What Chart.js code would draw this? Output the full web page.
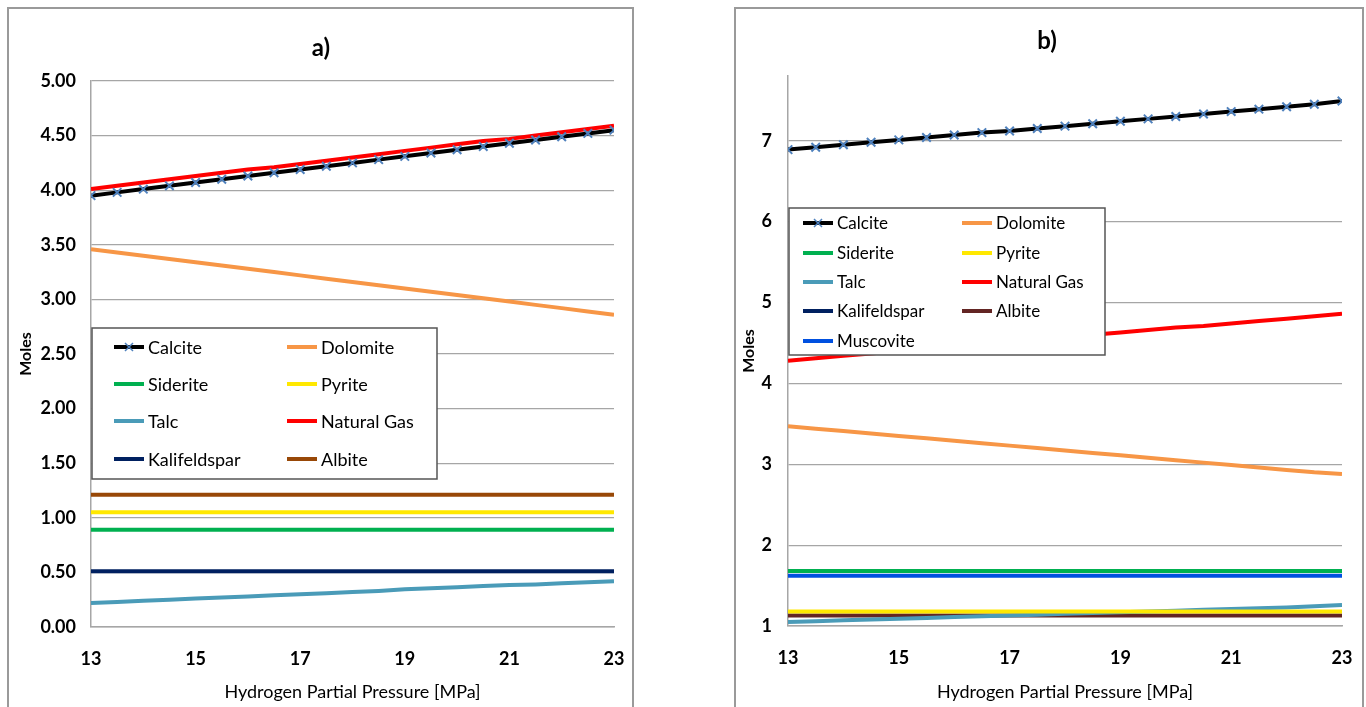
<!DOCTYPE html>
<html>
<head>
<meta charset="utf-8">
<script src="https://cdn.jsdelivr.net/npm/chart.js@4.4.1/dist/chart.umd.min.js"></script>
<style>
  body { margin: 0; background: #fff; width: 1366px; height: 707px; overflow: hidden; position: relative; }
  .box { position: absolute; top: 7px; height: 710px; border: 2px solid #9a9a9a; box-sizing: border-box; }
  #boxA { left: 7px; width: 627px; }
  #boxB { left: 734px; width: 630px; }
  canvas { position: absolute; left: 0; top: 0; }
</style>
</head>
<body>
<div class="box" id="boxA"><canvas id="chartA" width="623" height="698"></canvas></div>
<div class="box" id="boxB"><canvas id="chartB" width="626" height="698"></canvas></div>
<script>
const pressure = [13, 13.5, 14, 14.5, 15, 15.5, 16, 16.5, 17, 17.5, 18, 18.5, 19, 19.5, 20, 20.5, 21, 21.5, 22, 22.5, 23];
const pressureTicks = [13, 15, 17, 19, 21, 23];

// a)
const calciteA = [3.95, 3.98, 4.01, 4.04, 4.07, 4.10, 4.13, 4.16, 4.19, 4.22, 4.25, 4.28, 4.31, 4.34, 4.37, 4.40, 4.43, 4.46, 4.49, 4.52, 4.55];
const dolomiteA = [3.46, 3.43, 3.40, 3.37, 3.34, 3.31, 3.28, 3.25, 3.22, 3.19, 3.16, 3.13, 3.10, 3.07, 3.04, 3.01, 2.98, 2.95, 2.92, 2.89, 2.86];
const sideriteA = [0.89, 0.89, 0.89, 0.89, 0.89, 0.89, 0.89, 0.89, 0.89, 0.89, 0.89, 0.89, 0.89, 0.89, 0.89, 0.89, 0.89, 0.89, 0.89, 0.89, 0.89];
const pyriteA = [1.05, 1.05, 1.05, 1.05, 1.05, 1.05, 1.05, 1.05, 1.05, 1.05, 1.05, 1.05, 1.05, 1.05, 1.05, 1.05, 1.05, 1.05, 1.05, 1.05, 1.05];
const talcA = [0.22, 0.23, 0.24, 0.25, 0.26, 0.27, 0.28, 0.29, 0.30, 0.31, 0.32, 0.33, 0.345, 0.355, 0.365, 0.375, 0.385, 0.39, 0.40, 0.41, 0.42];
const gasA = [4.01, 4.04, 4.07, 4.10, 4.13, 4.16, 4.19, 4.21, 4.24, 4.27, 4.30, 4.33, 4.36, 4.39, 4.42, 4.45, 4.47, 4.50, 4.53, 4.56, 4.59];
const kalifeldsparA = [0.51, 0.51, 0.51, 0.51, 0.51, 0.51, 0.51, 0.51, 0.51, 0.51, 0.51, 0.51, 0.51, 0.51, 0.51, 0.51, 0.51, 0.51, 0.51, 0.51, 0.51];
const albiteA = [1.21, 1.21, 1.21, 1.21, 1.21, 1.21, 1.21, 1.21, 1.21, 1.21, 1.21, 1.21, 1.21, 1.21, 1.21, 1.21, 1.21, 1.21, 1.21, 1.21, 1.21];
const ticksA = [0, 0.5, 1, 1.5, 2, 2.5, 3, 3.5, 4, 4.5, 5];

// b)
const calciteB = [6.89, 6.92, 6.95, 6.98, 7.01, 7.04, 7.07, 7.10, 7.12, 7.15, 7.18, 7.21, 7.24, 7.27, 7.30, 7.33, 7.36, 7.39, 7.42, 7.45, 7.49];
const dolomiteB = [3.47, 3.44, 3.41, 3.38, 3.35, 3.32, 3.29, 3.26, 3.23, 3.20, 3.17, 3.14, 3.11, 3.08, 3.05, 3.02, 2.99, 2.96, 2.93, 2.90, 2.88];
const sideriteB = [1.68, 1.68, 1.68, 1.68, 1.68, 1.68, 1.68, 1.68, 1.68, 1.68, 1.68, 1.68, 1.68, 1.68, 1.68, 1.68, 1.68, 1.68, 1.68, 1.68, 1.68];
const pyriteB = [1.18, 1.18, 1.18, 1.18, 1.18, 1.18, 1.18, 1.18, 1.18, 1.18, 1.18, 1.18, 1.18, 1.18, 1.18, 1.18, 1.18, 1.18, 1.18, 1.18, 1.18];
const talcB = [1.05, 1.06, 1.07, 1.08, 1.09, 1.10, 1.11, 1.12, 1.13, 1.14, 1.15, 1.16, 1.17, 1.18, 1.19, 1.20, 1.21, 1.22, 1.23, 1.245, 1.26];
const gasB = [4.28, 4.31, 4.34, 4.37, 4.40, 4.43, 4.46, 4.49, 4.52, 4.55, 4.57, 4.60, 4.63, 4.66, 4.69, 4.71, 4.74, 4.77, 4.80, 4.83, 4.86];
const kalifeldsparB = [0.51, 0.51, 0.51, 0.51, 0.51, 0.51, 0.51, 0.51, 0.51, 0.51, 0.51, 0.51, 0.51, 0.51, 0.51, 0.51, 0.51, 0.51, 0.51, 0.51, 0.51];
const albiteB = [1.13, 1.13, 1.13, 1.13, 1.13, 1.13, 1.13, 1.13, 1.13, 1.13, 1.13, 1.13, 1.13, 1.13, 1.13, 1.13, 1.13, 1.13, 1.13, 1.13, 1.13];
const muscoviteB = [1.62, 1.62, 1.62, 1.62, 1.62, 1.62, 1.62, 1.62, 1.62, 1.62, 1.62, 1.62, 1.62, 1.62, 1.62, 1.62, 1.62, 1.62, 1.62, 1.62, 1.62];
const ticksB = [1, 2, 3, 4, 5, 6, 7];

const FONT = 'Lato, "Open Sans", sans-serif';
const xy = vals => pressure.map((p, i) => ({ x: p, y: vals[i] }));

function series(label, vals, color, marker) {
    return {
        label, data: xy(vals), borderColor: color, backgroundColor: color,
        borderWidth: 4, tension: 0,
        pointRadius: marker ? 6 : 0, pointStyle: 'crossRot',
        pointBorderColor: '#4F81BD', pointBorderWidth: 2, marker: !!marker
    };
}

// legend box drawn over the plot, like the original
const boxLegend = {
    id: 'boxLegend',
    afterDraw(chart, args, o) {
        const c = chart.ctx;
        c.save();
        c.fillStyle = '#fff';
        c.fillRect(o.x, o.y, o.w, o.h);
        c.strokeStyle = '#555';
        c.lineWidth = 1.5;
        c.strokeRect(o.x, o.y, o.w, o.h);
        c.font = o.fontSize + 'px ' + FONT;
        c.textBaseline = 'middle';
        chart.data.datasets.forEach((ds, i) => {
            const col = i % 2, row = Math.floor(i / 2);
            const lx = o.cols[col], ly = o.rows[row];
            c.strokeStyle = ds.borderColor;
            c.lineWidth = 4;
            c.beginPath(); c.moveTo(lx, ly); c.lineTo(lx + o.len, ly); c.stroke();
            if (ds.marker) {
                const mx = lx + o.len / 2;
                c.strokeStyle = '#4F81BD'; c.lineWidth = 1.5;
                c.beginPath();
                c.moveTo(mx - 4, ly - 4); c.lineTo(mx + 4, ly + 4);
                c.moveTo(mx + 4, ly - 4); c.lineTo(mx - 4, ly + 4);
                c.stroke();
            }
            c.fillStyle = '#000';
            c.fillText(ds.label, lx + o.len + 4, ly + 1);
        });
        c.restore();
    }
};

const panelTitle = {
    id: 'panelTitle',
    afterDraw(chart, args, o) {
        const c = chart.ctx;
        c.save();
        c.font = 'bold 24px ' + FONT;
        c.fillStyle = '#000';
        c.textAlign = 'center';
        c.textBaseline = 'middle';
        c.fillText(o.text, o.x, o.y);
        c.restore();
    }
};

function makeChart(id, datasets, cfg) {
    return new Chart(document.getElementById(id), {
        type: 'line',
        data: { datasets },
        plugins: [boxLegend, panelTitle],
        options: {
            responsive: false,
            animation: false,
            layout: { autoPadding: false, padding: { left: 0, right: cfg.padRight, top: cfg.padTop, bottom: 0 } },
            plugins: {
                legend: { display: false },
                tooltip: { enabled: false },
                boxLegend: cfg.legend,
                panelTitle: cfg.title
            },
            scales: {
                x: {
                    type: 'linear', min: 13, max: 23,
                    afterBuildTicks: s => { s.ticks = pressureTicks.map(v => ({ value: v })); },
                    afterFit: s => { s.height = cfg.xHeight; s.paddingLeft = 0; s.paddingRight = 0; },
                    grid: { display: false, drawTicks: false },
                    border: { color: '#a6a6a6', width: 1.5 },
                    ticks: { color: '#000', padding: 21, maxRotation: 0, font: { family: FONT, size: 18, weight: 'bold' } },
                    title: {
                        display: true, text: 'Hydrogen Partial Pressure [MPa]', color: '#000',
                        font: { family: FONT, size: 18 }, padding: { top: 4, bottom: 4 }
                    }
                },
                y: {
                    min: cfg.yMin, max: cfg.yMax,
                    afterBuildTicks: s => { s.ticks = cfg.yTicks.map(v => ({ value: v })); },
                    afterFit: s => { s.width = cfg.yWidth; s.paddingTop = 0; s.paddingBottom = 0; },
                    grid: { color: '#a6a6a6', lineWidth: 1.2, drawTicks: false },
                    border: { color: '#a6a6a6', width: 1.5 },
                    ticks: {
                        color: '#000', padding: cfg.yPad,
                        font: { family: FONT, size: 18, weight: 'bold' },
                        callback: v => cfg.yFmt(v)
                    },
                    title: {
                        display: true, text: 'Moles', color: '#000',
                        font: { family: FONT, size: 16, weight: 'bold' },
                        padding: { top: cfg.yTitlePad, bottom: 0 }
                    }
                }
            }
        }
    });
}

makeChart('chartA', [
    series('Calcite', calciteA, '#000000', true),
    series('Dolomite', dolomiteA, '#F79646'),
    series('Siderite', sideriteA, '#00B050'),
    series('Pyrite', pyriteA, '#FFE800'),
    series('Talc', talcA, '#4A9BB8'),
    series('Natural Gas', gasA, '#FF0000'),
    series('Kalifeldspar', kalifeldsparA, '#002060'),
    series('Albite', albiteA, '#984807')
], {
    padRight: 18, padTop: 72, xHeight: 80, yWidth: 82, yPad: 15, yTitlePad: 7,
    yMin: 0, yMax: 5, yTicks: ticksA, yFmt: v => v.toFixed(2),
    title: { text: 'a)', x: 312, y: 39 },
    legend: { x: 83, y: 319, w: 345, h: 151, cols: [105, 278], rows: [338, 375, 412, 450], len: 30, fontSize: 18 }
});

makeChart('chartB', [
    series('Calcite', calciteB, '#000000', true),
    series('Dolomite', dolomiteB, '#F79646'),
    series('Siderite', sideriteB, '#00B050'),
    series('Pyrite', pyriteB, '#FFE800'),
    series('Talc', talcB, '#4A9BB8'),
    series('Natural Gas', gasB, '#FF0000'),
    series('Kalifeldspar', kalifeldsparB, '#002060'),
    series('Albite', albiteB, '#632523'),
    series('Muscovite', muscoviteB, '#0050E0')
], {
    padRight: 20, padTop: 67, xHeight: 81, yWidth: 52, yPad: 16, yTitlePad: 3,
    yMin: 1, yMax: 7.8, yTicks: ticksB, yFmt: v => String(v),
    title: { text: 'b)', x: 311, y: 32 },
    legend: { x: 53, y: 199, w: 316, h: 147, cols: [67, 226], rows: [214, 244, 273, 302, 332], len: 30, fontSize: 17 }
});
</script>
</body>
</html>
